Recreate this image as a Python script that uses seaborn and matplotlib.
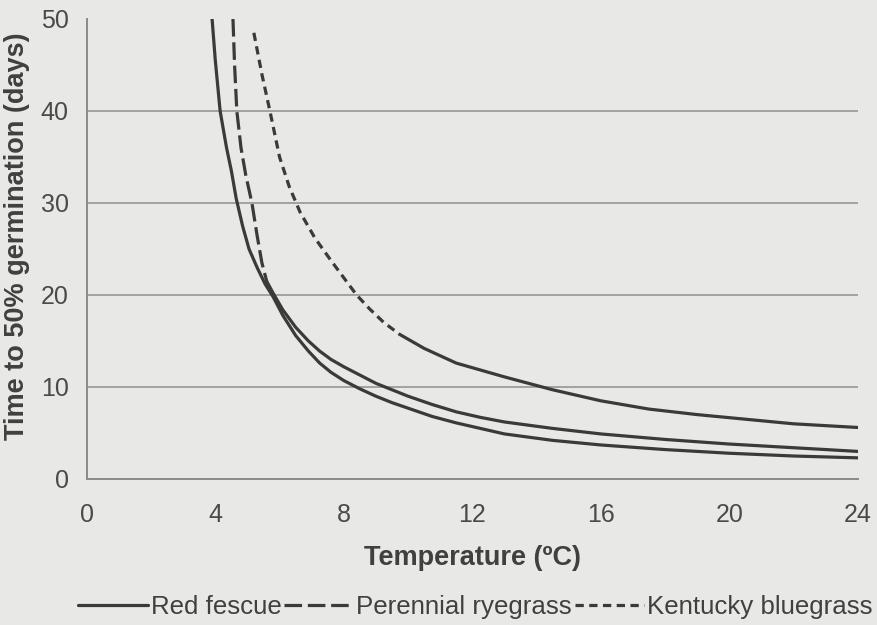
import matplotlib
matplotlib.use("Agg")
import matplotlib.pyplot as plt
import seaborn as sns
import pandas as pd

# ---- data ----
temp_fescue = [3.9, 4.0, 4.15, 4.35, 4.5, 4.65, 4.85, 5.05, 5.3, 5.55, 5.8, 6.1, 6.5, 6.9, 7.25, 7.6,
               8.0, 8.5, 9.0, 9.5, 10.0, 10.75, 11.5, 12.25, 13.0, 14.5, 16.0, 18.0, 20.0, 22.0, 24.0]
days_fescue = [50, 45.5, 40, 36, 33.5, 30.5, 27.5, 25, 23, 21.2, 19.8, 17.8, 15.6, 13.9, 12.6, 11.6,
               10.7, 9.8, 9.0, 8.3, 7.7, 6.8, 6.1, 5.5, 4.9, 4.2, 3.7, 3.2, 2.8, 2.5, 2.3]

temp_rye = [4.55, 4.6, 4.67, 4.8, 4.95, 5.14, 5.3, 5.45, 5.6, 5.8, 6.1, 6.5, 6.9, 7.25, 7.6, 8.0,
            8.5, 9.0, 9.5, 10.0, 10.75, 11.5, 12.25, 13.0, 14.5, 16.0, 18.0, 20.0, 22.0, 24.0]
days_rye = [50, 45, 40, 36, 33, 30, 26.5, 23.5, 21.5, 20.2, 18.4, 16.5, 15.0, 13.9, 13.0, 12.2,
            11.3, 10.4, 9.7, 9.0, 8.1, 7.3, 6.7, 6.2, 5.5, 4.9, 4.3, 3.8, 3.4, 3.0]

temp_blue = [5.2, 5.45, 5.7, 6.0, 6.3, 6.64, 7.1, 7.57, 8.1, 8.4, 8.8, 9.25, 9.75, 10.5, 11.5,
             13.0, 14.5, 16.0, 17.5, 19.0, 20.5, 22.0, 24.0]
days_blue = [48.5, 44, 40, 35, 31.8, 29, 26.2, 23.9, 21.4, 20.0, 18.5, 17.0, 15.7, 14.2, 12.6,
             11.1, 9.7, 8.5, 7.6, 7.0, 6.5, 6.0, 5.6]

series_names = ["Red fescue", "Perennial ryegrass", "Kentucky bluegrass"]
x_ticks = [0, 4, 8, 12, 16, 20, 24]
y_ticks = [0, 10, 20, 30, 40, 50]

BG = "#e8e8e6"
INK = "#3a3a3a"
TXT = "#404040"
GRID = "#a2a2a2"
LW = 2.3

sns.set_theme(style="white")
plt.rcParams["font.family"] = ["Liberation Sans", "DejaVu Sans"]

fig = plt.figure(figsize=(8.77, 6.25), dpi=100, facecolor=BG)
ax = fig.add_axes([0.099, 0.2336, 0.879, 0.7360])
ax.set_facecolor(BG)

df_f = pd.DataFrame({"T": temp_fescue, "D": days_fescue})
df_r = pd.DataFrame({"T": temp_rye, "D": days_rye})
df_b = pd.DataFrame({"T": temp_blue, "D": days_blue})

rye_split = temp_rye.index(5.6) + 1     # dashed part ends near 5.6 degC
blue_split = temp_blue.index(9.75) + 1  # dashed part ends near 9.75 degC

dash_rye = (0, (5.5, 1.8))
dash_blue = (0, (2.6, 1.7))

sns.lineplot(data=df_f, x="T", y="D", ax=ax, color=INK, lw=LW, sort=False,
             label=series_names[0])
sns.lineplot(data=df_r.iloc[:rye_split], x="T", y="D", ax=ax, color=INK, lw=LW,
             sort=False, linestyle=dash_rye, label=series_names[1])
sns.lineplot(data=df_r.iloc[rye_split - 1:], x="T", y="D", ax=ax, color=INK, lw=LW,
             sort=False, label="_nolegend_")
sns.lineplot(data=df_b.iloc[:blue_split], x="T", y="D", ax=ax, color=INK, lw=LW,
             sort=False, linestyle=dash_blue, label=series_names[2])
sns.lineplot(data=df_b.iloc[blue_split - 1:], x="T", y="D", ax=ax, color=INK, lw=LW,
             sort=False, label="_nolegend_")

handles, labels = ax.get_legend_handles_labels()
if ax.get_legend() is not None:
    ax.get_legend().remove()

ax.set_xlim(0, 24)
ax.set_ylim(0, 50)
ax.set_xticks(x_ticks)
ax.set_yticks(y_ticks)
ax.set_xticklabels([str(v) for v in x_ticks])
ax.set_yticklabels([str(v) for v in y_ticks])

for y in y_ticks[1:-1]:
    ax.axhline(y, color=GRID, lw=1.4, zorder=0)

for s in ["top", "right"]:
    ax.spines[s].set_visible(False)
for s in ["left", "bottom"]:
    ax.spines[s].set_color("#8a8a8a")
    ax.spines[s].set_linewidth(1.4)

ax.tick_params(axis="both", direction="out", length=6, width=1.2, color="#8a8a8a",
               labelsize=18, labelcolor="#4a4a4a")
ax.tick_params(axis="x", pad=11)
ax.tick_params(axis="y", pad=7)

ax.set_xlabel("Temperature (ºC)", fontsize=19.5, fontweight="bold", color=TXT)
ax.set_ylabel("Time to 50% germination (days)", fontsize=19.5, fontweight="bold", color=TXT)
ax.xaxis.set_label_coords(0.5, -0.143)
ax.yaxis.set_label_coords(-0.074, 0.528)

fig.legend(handles, labels, loc="center", bbox_to_anchor=(0.542, 0.029),
           ncol=3, frameon=False, fontsize=18.6, handlelength=2.7,
           handletextpad=0.1, columnspacing=0.1, labelcolor=TXT)

fig.savefig("out.png", dpi=100, facecolor=BG)
